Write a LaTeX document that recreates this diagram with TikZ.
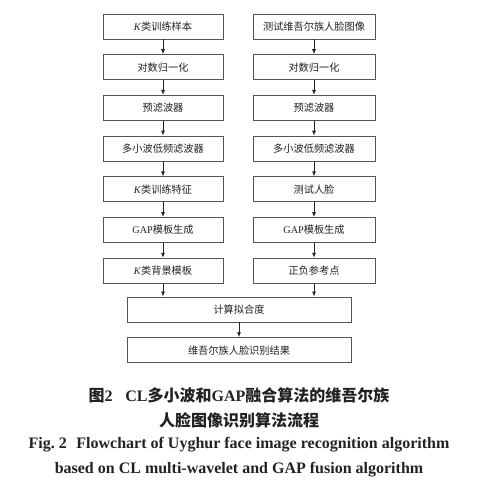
\documentclass[tikz,border=0pt]{standalone}
\usepackage{fontspec}
\setmainfont{Liberation Serif}
\newfontfamily\cjk{Noto Sans CJK SC}
\usetikzlibrary{arrows.meta,positioning,calc}
\definecolor{ink}{HTML}{222222}
\definecolor{frame}{HTML}{555555}
\newcommand{\zh}[1]{{\cjk #1}}
\tikzset{
  box/.style={draw=frame,fill=white,line width=0.9pt,minimum width=120pt,minimum height=25pt,inner sep=0pt,align=center,font=\fontsize{10.2}{12}\selectfont,text=ink},
  widebox/.style={box,minimum width=224pt},
  flow/.style={-{Latex[length=5pt,width=4pt]},line width=0.8pt,draw=ink},
  captext/.style={font=\fontsize{16}{18}\selectfont\bfseries,text=ink,inner sep=0pt}
}
\begin{document}
\begin{tikzpicture}[x=1pt,y=-1pt,node distance=14.8pt]
    \useasboundingbox (0,0) rectangle (500,484);
    % left column: training
    \node[box] (ksamp) at (163,26.5) {\textit{K}\zh{类训练样本}};
    \node[box,below=of ksamp] (llog) {\zh{对数归一化}};
    \node[box,below=of llog] (lpre) {\zh{预滤波器}};
    \node[box,below=of lpre] (lmw) {\zh{多小波低频滤波器}};
    \node[box,below=of lmw] (kfeat) {\textit{K}\zh{类训练特征}};
    \node[box,below=of kfeat] (lgap) {GAP\zh{模板生成}};
    \node[box,below=of lgap] (kback) {\textit{K}\zh{类背景模板}};

    % right column: test
    \node[box,minimum width=122pt] (timg) at (314,26.5) {\zh{测试维吾尔族人脸图像}};
    \node[box,minimum width=122pt,below=of timg] (rlog) {\zh{对数归一化}};
    \node[box,minimum width=122pt,below=of rlog] (rpre) {\zh{预滤波器}};
    \node[box,minimum width=122pt,below=of rpre] (rmw) {\zh{多小波低频滤波器}};
    \node[box,minimum width=122pt,below=of rmw] (tface) {\zh{测试人脸}};
    \node[box,minimum width=122pt,below=of tface] (rgap) {GAP\zh{模板生成}};
    \node[box,minimum width=122pt,below=of rgap] (refpt) {\zh{正负参考点}};

    % merge
    \node[widebox] (fitd) at (239,309.5) {\zh{计算拟合度}};
    \node[widebox,below=of fitd] (result) {\zh{维吾尔族人脸识别结果}};

    \foreach \a/\b in {ksamp/llog,llog/lpre,lpre/lmw,lmw/kfeat,kfeat/lgap,lgap/kback,
                       timg/rlog,rlog/rpre,rpre/rmw,rmw/tface,tface/rgap,rgap/refpt,fitd/result}
      \draw[flow] (\a) -- (\b);
    \draw[flow] (kback.south) -- (kback.south |- fitd.north);
    \draw[flow] (refpt.south) -- (refpt.south |- fitd.north);

    % caption
    \node[captext] (capa) at (239,395) {\zh{图}2\hspace{0.8em}CL\zh{多小波和}GAP\zh{融合算法的维吾尔族}};
    \node[captext] (capb) at (239,420) {\zh{人脸图像识别算法流程}};
    \node[captext] (capc) at (239,445) {Fig.~2\hspace{0.6em}Flowchart of Uyghur face image recognition algorithm};
    \node[captext] (capd) at (239,470) {based on CL multi-wavelet and GAP fusion algorithm};
  \end{tikzpicture}
\end{document}
